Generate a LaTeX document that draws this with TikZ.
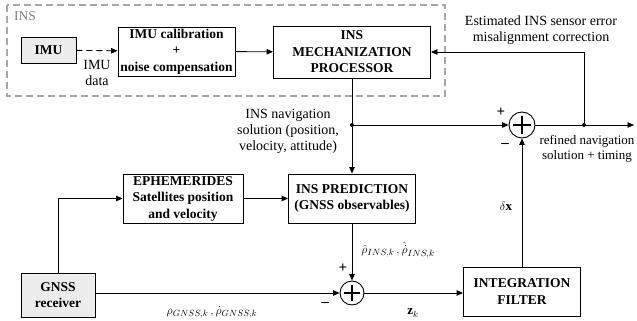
\documentclass[tikz,border=0pt]{standalone}
\usepackage{fontspec}
\setmainfont{Liberation Serif}
\usetikzlibrary{arrows.meta}
\begin{document}
\begin{tikzpicture}[x=1pt,y=-1pt,
  box/.style={draw,line width=0.9pt,align=center,inner sep=0pt,
    font=\bfseries\fontsize{13.5}{16.5}\selectfont},
  graybox/.style={box,fill=gray!15},
  arr/.style={line width=0.9pt,-{Triangle[length=6.5pt,width=5.5pt]}},
  ln/.style={line width=0.9pt},
  lbl/.style={align=center,inner sep=0pt,font=\fontsize{14}{16}\selectfont},
  mlbl/.style={inner sep=0pt,font=\fontsize{13}{15}\selectfont},
  sign/.style={inner sep=0pt,font=\bfseries\fontsize{15}{15}\selectfont},
  summer/.style={draw,circle,line width=0.9pt,minimum size=#1,inner sep=0pt,
    path picture={\draw[line width=1.3pt]
      ([xshift=-0.33*#1]path picture bounding box.center) -- ([xshift=0.33*#1]path picture bounding box.center)
      ([yshift=-0.33*#1]path picture bounding box.center) -- ([yshift=0.33*#1]path picture bounding box.center);}},
  dot/.style={circle,fill,inner sep=0pt,minimum size=4pt}
]
\useasboundingbox (0,0) rectangle (637,321);
% INS dashed frame
\draw[gray!70,line width=1.2pt,dash pattern=on 7pt off 4pt] (7,5) rectangle (445,96);
\node[anchor=west,inner sep=0pt,text=gray,font=\fontsize{13.5}{15}\selectfont] (inslbl) at (14,16) {INS};

% boxes
\node[graybox,minimum width=55pt,minimum height=26pt] (imu) at (48.5,50) {IMU};
\node[box,minimum width=117pt,minimum height=49pt] (calib) at (176.5,51.5) {IMU calibration\\+\\noise compensation};
\node[box,minimum width=157pt,minimum height=52pt] (mech) at (352,52) {INS\\MECHANIZATION\\PROCESSOR};
\node[box,minimum width=120pt,minimum height=49pt] (ephem) at (183,198.5) {EPHEMERIDES\\Satellites position\\and velocity};
\node[box,minimum width=127pt,minimum height=49pt] (pred) at (352,198.5) {INS PREDICTION\\(GNSS observables)};
\node[graybox,minimum width=74pt,minimum height=44pt] (gnss) at (58,295) {GNSS\\receiver};
\node[box,minimum width=117pt,minimum height=49pt] (filt) at (522,291.5) {INTEGRATION\\FILTER};

% summing junctions
\node[summer=26pt] (sum1) at (522,125) {};
\node[summer=24pt] (sum2) at (352,293) {};

% junction points
\node[dot] (j1) at (352,125) {};
\node[dot] (j2) at (584,125) {};
\coordinate (out) at (634,125);

% connectors
\draw[arr,dash pattern=on 6pt off 4pt] (imu) -- (calib);
\draw[arr] (calib) -- (mech);
\draw[ln] (mech.south) -- (j1);
\draw[arr] (j1) -- (pred.north);
\draw[arr] (j1) -- (sum1.west);
\draw[arr] (sum1.east) -- (out);
\draw[arr] (j2) |- (mech.east);
\draw[arr] (filt.north) -- (sum1.south);
\draw[arr] (gnss.north) |- (ephem.west);
\draw[arr] (ephem) -- (pred);
\draw[arr] (pred.south) -- (sum2.north);
\draw[arr] (gnss.east |- sum2.west) -- (sum2.west);
\draw[arr] (sum2.east) -- (filt.west |- sum2.east);

% labels
\node[lbl] (imudata) at (97,73) {IMU\\data};
\node[lbl] (navsol) at (288,131) {INS navigation\\solution (position,\\velocity, attitude)};
\node[lbl] (est) at (541,30) {Estimated INS sensor error\\misalignment correction};
\node[lbl,font=\fontsize{13}{15.5}\selectfont] (refined) at (587,149) {refined navigation\\solution + timing};
\node[mlbl] (dx) at (506,206) {$\delta\mathbf{x}$};
\node[mlbl] (rhoins) at (398,250) {$\hat{\rho}_{INS,k}\,,\hat{\dot{\rho}}_{INS,k}$};
\node[mlbl] (rhognss) at (212,312) {$\rho_{GNSS,k}\,,\dot{\rho}_{GNSS,k}$};
\node[mlbl] (zk) at (413,313) {$\mathbf{z}_k$};
\node[sign] (p1) at (501,112) {+};
\node[sign] (m1) at (505,145) {--};
\node[sign] (p2) at (343,268) {+};
\node[sign] (m2) at (325,304) {--};
\end{tikzpicture}
\end{document}
